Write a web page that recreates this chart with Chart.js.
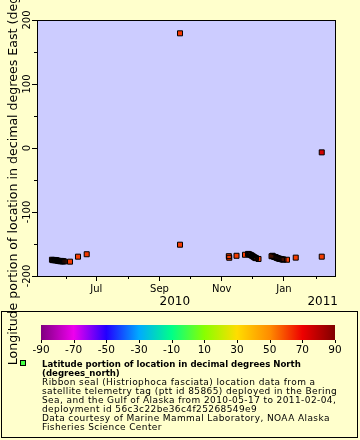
<!DOCTYPE html>
<html><head><meta charset="utf-8">
<style>html,body{margin:0;padding:0;background:#FFFFCC;}canvas{display:block;}</style>
<script src="https://cdn.jsdelivr.net/npm/chart.js@4.4.1/dist/chart.umd.min.js"></script>
</head><body>
<canvas id="c" width="360" height="440"></canvas>
<script>
// ---- data (time UTC, longitude East, latitude North) ----
const times = [
 '2010-05-18T12:00','2010-05-19T12:00','2010-05-20T12:00','2010-05-21T12:00','2010-05-22T12:00',
 '2010-05-23T12:00','2010-05-24T12:00','2010-05-25T12:00','2010-05-26T12:00','2010-05-27T12:00',
 '2010-05-28T12:00','2010-05-29T12:00','2010-05-30T12:00','2010-06-05T05:00','2010-06-13T01:00',
 '2010-06-21T14:00','2010-09-21T02:00','2010-09-21T02:00','2010-11-07T23:00','2010-11-08T09:00',
 '2010-11-15T12:00','2010-11-23T20:00','2010-11-26T19:00','2010-11-27T19:00','2010-11-28T19:00',
 '2010-11-29T18:00','2010-11-30T17:00','2010-12-01T17:00','2010-12-02T17:00','2010-12-03T17:00',
 '2010-12-04T14:00','2010-12-07T02:00','2010-12-19T20:00','2010-12-20T19:00','2010-12-21T19:00',
 '2010-12-22T19:00','2010-12-23T19:00','2010-12-24T17:00','2010-12-25T17:00','2010-12-26T17:00',
 '2010-12-27T17:00','2010-12-28T17:00','2010-12-29T17:00','2010-12-30T14:00','2010-12-31T14:00',
 '2011-01-04T00:00','2011-01-12T14:00','2011-02-07T02:00','2011-02-07T02:00'
];
const longitudes = [
 -174.6,-175.3,-174.9,-175.6,-175.1,
 -175.8,-176.2,-176.5,-177.0,-176.4,
 -177.2,-176.8,-177.3,-177.6,-169.8,
 -166.0,179.2,-151.1,-169.0,-171.5,
 -168.4,-166.8,-165.5,-166.0,-166.8,
 -167.4,-168.4,-169.4,-170.5,-171.5,
 -172.1,-173.4,-169.1,-168.4,-169.6,
 -170.2,-170.5,-171.5,-172.1,-172.7,
 -173.1,-173.4,-173.8,-174.2,-174.3,
 -174.6,-171.3,-169.8,-6.8
];
const latitudes = [
 60.1,60.0,60.2,60.3,60.1,
 60.4,60.5,60.6,60.5,60.7,
 60.8,60.9,61.0,61.8,61.5,
 61.8,62.0,61.6,61.5,61.4,
 61.6,61.7,61.5,61.6,61.4,
 61.5,61.3,61.2,61.4,61.5,
 61.3,61.6,61.2,61.3,61.1,
 61.0,61.2,61.4,61.3,61.2,
 61.1,61.3,61.2,61.4,61.3,
 61.6,61.7,61.5,75.0
];
const xMinTime = '2010-05-03T20:00';
const xMaxTime = '2011-02-20T02:00';
const monthTickDates = ['2010-06-01','2010-07-01','2010-08-01','2010-09-01','2010-10-01','2010-11-01','2010-12-01','2011-01-01','2011-02-01'];
const monthTickLabels = ['','Jul','','Sep','','Nov','','Jan',''];
const yearLabels = ['2010','2011'];
const yearLabelDates = ['2010-09-16','2011-02-08'];
const yTickValues = [-200,-150,-100,-50,0,50,100,150,200];
const yTickLabels = ['-200','','-100','','0','','100','','200'];
const colorbarTicks = [-90,-70,-50,-30,-10,10,30,50,70,90];
const paletteValues = [-90,-70,-50,-30,-10,10,30,50,70,90];
const paletteColors = [[128,0,128],[238,0,238],[34,0,255],[0,170,255],[0,255,136],[136,255,0],[255,221,0],[255,140,0],[238,0,0],[128,0,0]];
const yTitle = 'Longitude portion of location in decimal degrees East (degrees_east)';
const legendTitle = ['Latitude portion of location in decimal degrees North', '(degrees_north)'];
const legendLines = [
 'Ribbon seal (Histriophoca fasciata) location data from a',
 'satellite telemetry tag (ptt id 85865) deployed in the Bering',
 'Sea, and the Gulf of Alaska from 2010-05-17 to 2011-02-04,',
 'deployment id 56c3c22be36c4f25268549e9',
 'Data courtesy of Marine Mammal Laboratory, NOAA Alaska',
 'Fisheries Science Center'
];

const FONT = '"DejaVu Sans", sans-serif';
const t = s => Date.parse(s.length === 10 ? s + 'T00:00:00Z' : s + ':00Z');

function latColor(v) {
  const vs = paletteValues, cs = paletteColors;
  if (v <= vs[0]) return 'rgb(' + cs[0].join(',') + ')';
  for (let i = 1; i < vs.length; i++) {
    if (v <= vs[i]) {
      const f = (v - vs[i-1]) / (vs[i] - vs[i-1]);
      const c = cs[i-1].map((a, k) => Math.round(a + (cs[i][k] - a) * f));
      return 'rgb(' + c.join(',') + ')';
    }
  }
  return 'rgb(' + cs[cs.length-1].join(',') + ')';
}

const points = times.map((s, i) => ({x: t(s), y: longitudes[i]}));
const fills = latitudes.map(latColor);

const bgPlugin = {
  id: 'bg',
  beforeDraw(chart) {
    const c = chart.ctx, a = chart.chartArea;
    c.save();
    c.fillStyle = '#FFFFCC';
    c.fillRect(0, 0, chart.width, chart.height);
    c.fillStyle = '#CCCCFF';
    c.fillRect(a.left, a.top, a.right - a.left, a.bottom - a.top);
    c.restore();
  }
};

const decorPlugin = {
  id: 'decor',
  afterDraw(chart) {
    const c = chart.ctx, a = chart.chartArea;
    const xs = chart.scales.x, ys = chart.scales.y;
    c.save();
    c.strokeStyle = '#000'; c.lineWidth = 1;
    // top & right frame
    c.beginPath();
    c.moveTo(a.left, Math.round(a.top) + 0.5); c.lineTo(a.right + 0.5, Math.round(a.top) + 0.5);
    c.moveTo(Math.round(a.right) + 0.5, a.top); c.lineTo(Math.round(a.right) + 0.5, a.bottom);
    // minor ticks
    monthTickDates.forEach((d, i) => {
      if (monthTickLabels[i] === '') {
        const px = Math.round(xs.getPixelForValue(t(d))) + 0.5;
        c.moveTo(px, a.bottom); c.lineTo(px, a.bottom + 3);
      }
    });
    yTickValues.forEach((v, i) => {
      if (yTickLabels[i] === '') {
        const py = Math.round(ys.getPixelForValue(v)) + 0.5;
        c.moveTo(a.left, py); c.lineTo(a.left - 3, py);
      }
    });
    c.stroke();
    c.fillStyle = '#000';
    // x labels
    c.font = '10px ' + FONT; c.textAlign = 'center'; c.textBaseline = 'alphabetic';
    monthTickDates.forEach((d, i) => {
      if (monthTickLabels[i] !== '') c.fillText(monthTickLabels[i], xs.getPixelForValue(t(d)), 291.5);
    });
    c.font = '12px ' + FONT;
    yearLabels.forEach((lab, i) => c.fillText(lab, xs.getPixelForValue(t(yearLabelDates[i])), 305));
    // y labels rotated
    c.font = '10px ' + FONT;
    yTickValues.forEach((v, i) => {
      if (yTickLabels[i] === '') return;
      c.save();
      c.translate(29.8, ys.getPixelForValue(v));
      c.rotate(-Math.PI / 2);
      c.fillText(yTickLabels[i], 0, 0);
      c.restore();
    });
    // legend box
    c.strokeRect(1.5, 311.5, 356, 126);
    const barL = 41, barR = 335, barT = 325, barB = 340;
    const g = c.createLinearGradient(barL, 0, barR, 0);
    paletteValues.forEach((v, i) => g.addColorStop((v - paletteValues[0]) / (paletteValues[paletteValues.length-1] - paletteValues[0]), 'rgb(' + paletteColors[i].join(',') + ')'));
    c.fillStyle = g;
    c.fillRect(barL, barT, barR - barL, barB - barT);
    c.fillStyle = '#000';
    c.beginPath();
    c.font = '10.5px ' + FONT;
    colorbarTicks.forEach(v => {
      const px = Math.round(barL + (v + 90) / 180 * (barR - barL)) + 0.5;
      c.moveTo(px, barB); c.lineTo(px, barB + 3);
      c.fillText(String(v), barL + (v + 90) / 180 * (barR - barL), 353);
    });
    c.stroke();
    // legend marker
    c.fillStyle = '#44FF44';
    c.fillRect(20, 360, 6, 6);
    c.strokeRect(20.5, 360.5, 5, 5);
    c.fillStyle = '#000';
    c.textAlign = 'left';
    c.font = 'bold 8.6px ' + FONT;
    legendTitle.forEach((s, i) => c.fillText(s, 42, 366.7 + i * 9));
    c.font = '9px ' + FONT;
    if ('letterSpacing' in c) c.letterSpacing = '0.4px';
    legendLines.forEach((s, i) => c.fillText(s, 42, 385 + i * 9));
    if ('letterSpacing' in c) c.letterSpacing = '0px';
    // y title
    c.save();
    c.font = '12.6px ' + FONT;
    c.textAlign = 'center';
    c.translate(17.3, (a.top + a.bottom) / 2);
    c.rotate(-Math.PI / 2);
    c.fillText(yTitle, 0, 0);
    c.restore();
    c.restore();
  }
};

new Chart(document.getElementById('c'), {
  type: 'scatter',
  data: {
    datasets: [
      {data: points, pointStyle: 'rect', pointRadius: 3.54, pointHoverRadius: 3.54,
       backgroundColor: 'rgba(0,0,0,0)', borderColor: '#000', borderWidth: 1},
      {data: points, pointStyle: 'rect', pointRadius: 3.54, pointHoverRadius: 3.54,
       backgroundColor: fills, borderColor: fills, borderWidth: 0}
    ]
  },
  options: {
    responsive: false, animation: false, devicePixelRatio: 1, events: [],
    layout: {padding: {top: 20, right: 25, left: 0, bottom: 0}},
    plugins: {legend: {display: false}, tooltip: {enabled: false}},
    scales: {
      x: {
        type: 'linear', min: t(xMinTime), max: t(xMaxTime),
        afterBuildTicks: s => { s.ticks = monthTickDates.map((d, i) => ({value: t(d), major: monthTickLabels[i] !== ''})); },
        ticks: {display: false},
        grid: {drawOnChartArea: false, drawTicks: true, tickLength: 5, tickWidth: 1,
               tickColor: c => (c.tick && c.tick.major) ? '#000' : 'rgba(0,0,0,0)'},
        border: {display: true, color: '#000', width: 1},
        afterFit: s => { s.height = 164; }
      },
      y: {
        type: 'linear', min: -200, max: 200,
        afterBuildTicks: s => { s.ticks = yTickValues.map((v, i) => ({value: v, major: yTickLabels[i] !== ''})); },
        ticks: {display: false},
        grid: {drawOnChartArea: false, drawTicks: true, tickLength: 5, tickWidth: 1,
               tickColor: c => (c.tick && c.tick.major) ? '#000' : 'rgba(0,0,0,0)'},
        border: {display: true, color: '#000', width: 1},
        afterFit: s => { s.width = 37; }
      }
    }
  },
  plugins: [bgPlugin, decorPlugin]
});
</script>
</body></html>
